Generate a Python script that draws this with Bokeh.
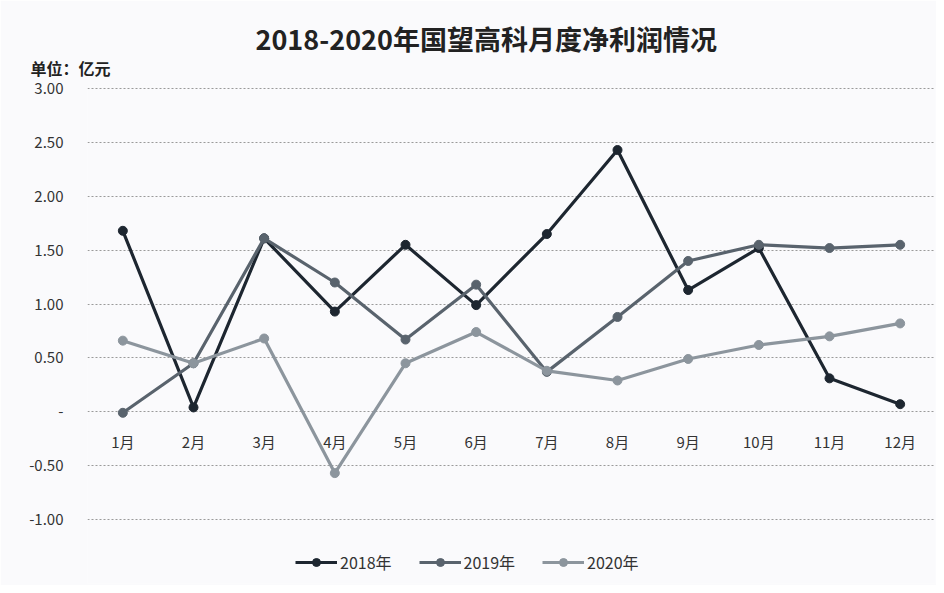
from bokeh.plotting import figure
from bokeh.models import Range1d, FixedTicker, Title, Legend, LegendItem, ColumnDataSource
from bokeh.core.properties import value
from bokeh.embed import file_html
from bokeh.resources import INLINE

months = ["1月", "2月", "3月", "4月", "5月", "6月", "7月", "8月", "9月", "10月", "11月", "12月"]
month_pos = list(range(1, 13))
y2018 = [1.68, 0.04, 1.61, 0.93, 1.55, 0.99, 1.65, 2.43, 1.13, 1.52, 0.31, 0.07]
y2019 = [-0.01, 0.45, 1.61, 1.20, 0.67, 1.18, 0.37, 0.88, 1.40, 1.55, 1.52, 1.55]
y2020 = [0.66, 0.45, 0.68, -0.57, 0.45, 0.74, 0.38, 0.29, 0.49, 0.62, 0.70, 0.82]
series_names = ["2018年", "2019年", "2020年"]
y_ticks = [-1.0, -0.5, 0.0, 0.5, 1.0, 1.5, 2.0, 2.5, 3.0]
y_tick_labels = ["-1.00", "-0.50", "-", "0.50", "1.00", "1.50", "2.00", "2.50", "3.00"]
title_text = "2018-2020年国望高科月度净利润情况"
unit_text = "单位：亿元"

FONT = "Noto Sans CJK SC"
BG = "#fafafc"
colors = ["#1d2630", "#59636d", "#8c959d"]

# frame extends below the -1.00 gridline so the legend can sit inside it
p = figure(width=936, height=585, output_backend="svg", toolbar_location=None,
           x_range=Range1d(0.5, 12.5), y_range=Range1d(-1.595, 3.02),
           min_border_left=87, min_border_right=1, min_border_top=86, min_border_bottom=2)
p.background_fill_color = BG
p.border_fill_color = BG
p.outline_line_color = None

p.xaxis.visible = False
p.xgrid.visible = False
p.ygrid.ticker = FixedTicker(ticks=y_ticks)
p.ygrid.grid_line_color = "#9a9a9a"
p.ygrid.grid_line_dash = "2 2"
p.ygrid.grid_line_width = 1

ya = p.yaxis[0]
ya.ticker = FixedTicker(ticks=y_ticks)
ya.major_label_overrides = {t: l for t, l in zip(y_ticks, y_tick_labels)}
ya.axis_line_color = None
ya.major_tick_line_color = None
ya.minor_tick_line_color = None
ya.major_label_standoff = 18
ya.major_label_text_font = FONT
ya.major_label_text_font_size = "15px"
ya.major_label_text_color = "#333333"

items = []
for name, ys, c in zip(series_names, [y2018, y2019, y2020], colors):
    src = ColumnDataSource(dict(x=month_pos, y=ys))
    r1 = p.line("x", "y", source=src, line_color=c, line_width=3.2)
    r2 = p.scatter("x", "y", source=src, size=9, fill_color=c, line_color=c)
    items.append(LegendItem(label=name, renderers=[r1, r2]))

msrc = ColumnDataSource(dict(x=month_pos, y=[0.0] * 12, t=months))
p.text("x", "y", text="t", source=msrc, text_align="center", text_baseline="top",
       y_offset=19, text_font=value(FONT), text_font_size="15px", text_color="#333333")

legend = Legend(items=items, orientation="horizontal", location=(208, 9),
                background_fill_alpha=0, border_line_color=None,
                label_text_font=FONT, label_text_font_size="16px", label_text_color="#333333",
                glyph_width=42, spacing=27, label_standoff=3)
p.add_layout(legend, "center")

p.title.text = title_text
p.title.align = "left"
p.title.offset = 168
p.title.standoff = -22
p.title.text_font = FONT
p.title.text_font_size = "27px"
p.title.text_font_style = "bold"
p.title.text_color = "#222222"

p.add_layout(Title(text=unit_text, align="left", offset=-57, standoff=14, text_font=FONT,
                   text_font_size="16px", text_font_style="bold", text_color="#222222"), "above")

open("out.html", "w").write(file_html(p, INLINE))
